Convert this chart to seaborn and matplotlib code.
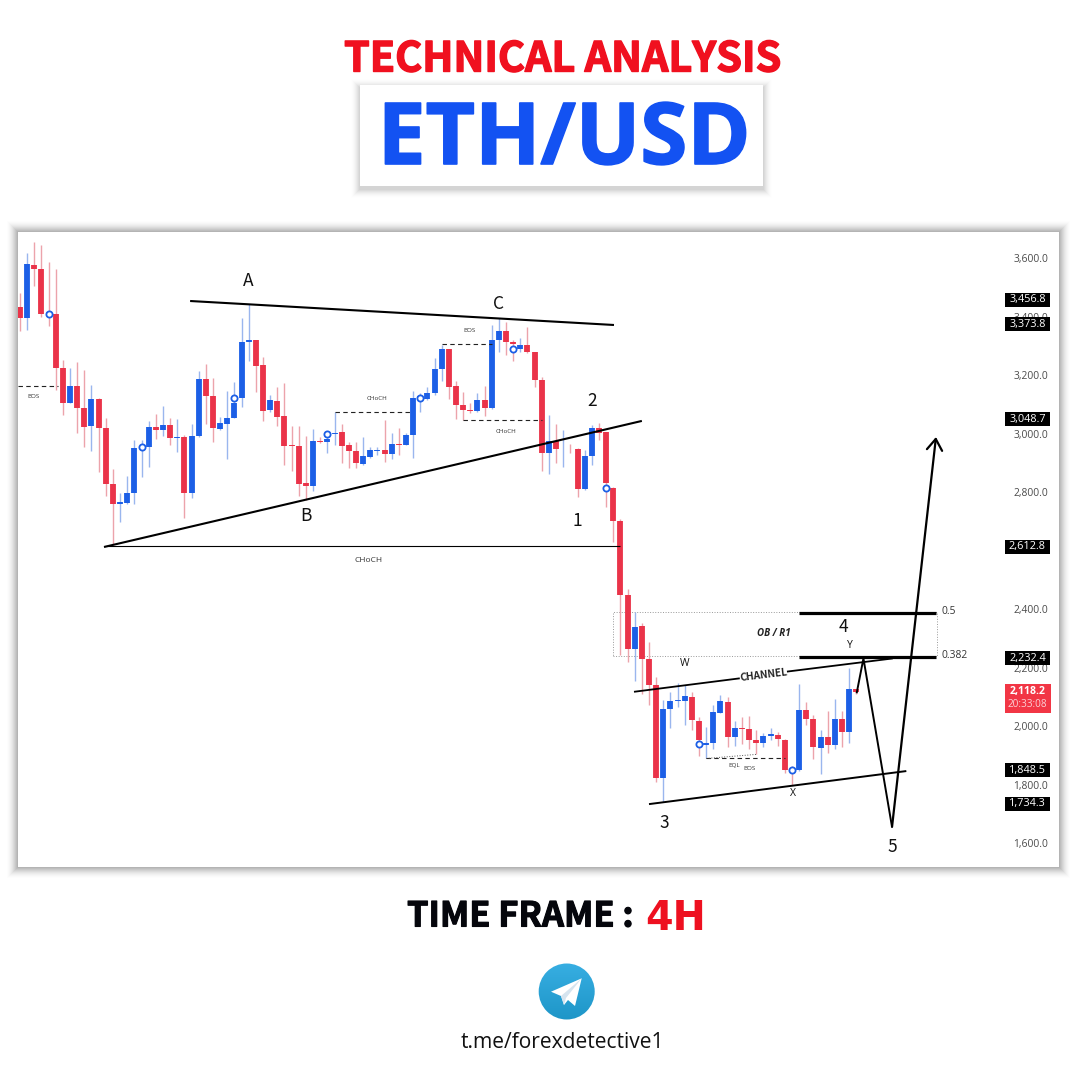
import numpy as np
import pandas as pd
import matplotlib
matplotlib.use('Agg')
import matplotlib.pyplot as plt
import matplotlib.patheffects as pe
from matplotlib.patches import Rectangle, Circle, Polygon
import seaborn as sns

# candle values
opens = [3431, 3396, 3576, 3562, 3414, 3410, 3224, 3106, 3161, 3088, 3024, 3118, 3018, 2826, 2760, 2762, 2795, 2949, 2954, 3022,
         3011, 3028, 2986, 2987, 2795, 2991, 3186, 3129, 3016, 3032, 3054, 3120, 3314, 3320, 3233, 3081, 3111, 3059, 2961, 2957,
         2830, 2822, 2974, 2972, 2998, 3004, 2960, 2940, 2896, 2921, 2939, 2942, 2929, 2965, 2962, 2995, 3117, 3119, 3140, 3220,
         3290, 3161, 3099, 3080, 3076, 3114, 3087, 3318, 3349, 3314, 3289, 3303, 3279, 3183, 2932, 2975, 2946, 2948, 2946, 2809,
         2923, 3020, 3004, 2815, 2700, 2448, 2263, 2343, 2228, 2140, 1821, 2059, 2086, 2086, 2100, 2018, 1936, 1942, 2046, 2081,
         1964, 1994, 1989, 1952, 1943, 1967, 1969, 1953, 1854, 1848, 2054, 2023, 1926, 1961, 1936, 2024, 1980, 2125]
closes = [3396, 3578, 3562, 3410, 3405, 3225, 3106, 3161, 3087, 3022, 3118, 3020, 2826, 2760, 2766, 2795, 2949, 2958, 3022, 3011,
          3028, 2986, 2988, 2795, 2993, 3186, 3128, 3018, 3036, 3054, 3103, 3314, 3320, 3232, 3078, 3113, 3057, 2958, 2957, 2828,
          2822, 2974, 2970, 2981, 3003, 2958, 2939, 2899, 2922, 2942, 2942, 2929, 2965, 2961, 2995, 3120, 3128, 3140, 3222, 3290,
          3160, 3099, 3079, 3078, 3114, 3087, 3320, 3349, 3314, 3306, 3304, 3279, 3183, 2932, 2975, 2946, 2948, 2946, 2809, 2922,
          3018, 3003, 2832, 2700, 2447, 2263, 2340, 2228, 2140, 1821, 2059, 2084, 2089, 2101, 2021, 1952, 1942, 2047, 2084, 1964,
          1994, 1989, 1952, 1943, 1967, 1972, 1954, 1851, 1846, 2054, 2023, 1928, 1961, 1936, 2024, 1980, 2125, 2116]
highs = [3479, 3618, 3654, 3644, 3587, 3561, 3251, 3225, 3246, 3217, 3166, 3120, 3054, 2879, 2795, 2855, 2979, 2978, 3043, 3067,
         3094, 3052, 3048, 2995, 3031, 3214, 3236, 3189, 3057, 3146, 3176, 3394, 3442, 3320, 3263, 3132, 3158, 3171, 3026, 3026,
         2991, 3015, 2989, 3006, 3072, 3031, 2972, 2972, 2988, 2955, 2953, 3046, 3001, 3018, 3001, 3145, 3137, 3160, 3259, 3303,
         3290, 3179, 3141, 3103, 3137, 3162, 3371, 3396, 3382, 3320, 3325, 3365, 3280, 3194, 3063, 3031, 3012, 2963, 2952, 2944,
         3029, 3037, 3004, 2818, 2707, 2468, 2391, 2353, 2288, 2166, 2089, 2117, 2146, 2140, 2117, 2032, 1998, 2072, 2106, 2100,
         2018, 2030, 2035, 1986, 1977, 1992, 1981, 1954, 1863, 2144, 2081, 2038, 1986, 2051, 2091, 2052, 2197, 2125]
lows = [3350, 3354, 3505, 3399, 3369, 3149, 3063, 3103, 3003, 2954, 2941, 2870, 2787, 2619, 2698, 2760, 2760, 2852, 2884, 2981,
        2993, 2961, 2938, 2712, 2781, 2989, 3031, 2972, 3012, 2913, 3052, 3089, 3248, 3143, 3043, 3075, 3027, 2892, 2872, 2786,
        2773, 2803, 2966, 2933, 2961, 2898, 2881, 2883, 2892, 2915, 2926, 2904, 2912, 2926, 2961, 2917, 3075, 3114, 3130, 3179,
        3119, 3048, 3046, 3071, 3075, 3060, 3085, 3277, 3268, 3248, 3277, 3276, 3160, 2872, 2860, 2898, 2887, 2932, 2782, 2807,
        2892, 2978, 2750, 2630, 2243, 2220, 2155, 2108, 2072, 1810, 1741, 1993, 2064, 2003, 1986, 1899, 1889, 1920, 2043, 1927,
        1933, 1938, 1920, 1904, 1929, 1952, 1932, 1838, 1798, 1846, 2003, 1887, 1835, 1907, 1920, 1927, 1943, 2108]

# blue ring markers
ring_candles = [4, 17, 30, 43, 56, 69, 82, 95, 108]
ring_prices = [3410, 2954, 3120, 2997, 3120, 3290, 2815, 1937, 1850]

price_ticks = [3600, 3400, 3200, 3000, 2800, 2600, 2400, 2200, 2000, 1800, 1600]
price_tick_labels = ['3,600.0', '3,400.0', '3,200.0', '3,000.0', '2,800.0', '', '2,400.0', '2,200.0', '2,000.0', '1,800.0', '1,600.0']
level_tags = [3456.8, 3373.8, 3048.7, 2612.8, 2232.4, 1848.5, 1734.3]

RED = '#ea3349'
BLUE = '#1c5fe6'
WICK_RED = '#eca3ab'
WICK_BLUE = '#9ab6ee'
HEAD_FONT = ['Noto Sans CJK SC', 'DejaVu Sans']

sns.set_style('white')
plt.rcParams['font.family'] = ['Open Sans', 'DejaVu Sans']

fig = plt.figure(figsize=(10.8, 10.8), dpi=100, facecolor='white')

# page layer in image pixels
page = fig.add_axes([0, 0, 1, 1], zorder=0)
page.set_xlim(0, 1080)
page.set_ylim(1080, 0)
page.axis('off')


def shadow_box(x0, y0, x1, y1, spread, drop, strength):
    # layers get darker towards the box so the edge fades out
    for i in range(spread, 0, -1):
        page.add_patch(Rectangle((x0 - i, y0 - i + drop), x1 - x0 + 2 * i, y1 - y0 + 2 * i,
                                 fc='black', ec='none', lw=0, alpha=strength * (spread - i + 1.5)))
    page.add_patch(Rectangle((x0, y0), x1 - x0, y1 - y0, fc='white', ec='none'))


shadow_box(18, 232, 1059, 867, 11, 0, 0.0045)
shadow_box(360, 85, 763, 186, 9, 3, 0.0035)

# header and footer
page.text(344, 71.5, 'TECHNICAL ANALYSIS', color='#f0101f', family=HEAD_FONT, weight='bold', fontsize=29.7,
          ha='left', va='baseline', path_effects=[pe.withStroke(linewidth=1.0, foreground='#f0101f')])
page.text(564, 164, 'ETH/USD', color='#1352f2', family='Open Sans', weight='bold', fontsize=61.5,
          ha='center', va='baseline', path_effects=[pe.withStroke(linewidth=1.2, foreground='#1352f2')])
page.text(407, 926.5, 'TIME FRAME :', color='#05060c', family=HEAD_FONT, weight='bold', fontsize=24.8,
          ha='left', va='baseline', path_effects=[pe.withStroke(linewidth=0.8, foreground='#05060c')])
page.text(645, 930, '4H', color='#ee1020', family='DejaVu Sans', weight='bold', fontsize=28.5,
          ha='left', va='baseline')
page.text(562.5, 1042, 't.me/forexdetective1', color='#111111', family='Open Sans', fontsize=15.1,
          ha='center', va='center')

# telegram badge
badge = Circle((566.7, 991.5), 28, transform=page.transData)
grad = page.imshow(np.linspace(0, 1, 64).reshape(-1, 1), extent=(538, 595, 1020, 963), aspect='auto',
                   cmap=matplotlib.colors.LinearSegmentedColormap.from_list('tg', ['#37aee2', '#1e96c8']),
                   zorder=2)
grad.set_clip_path(badge)
page.set_xlim(0, 1080)
page.set_ylim(1080, 0)
page.add_patch(Polygon([(581.7, 978.3), (551, 991.7), (561, 996), (564, 1005), (568, 1000), (575, 1006)],
                       fc='white', ec='none', zorder=3))
page.add_patch(Polygon([(581.7, 978.3), (561, 996), (564, 1005), (566, 998)], fc='#d5e4ef', ec='none', zorder=4))

# chart layer, no background so the panel shows through
ax = fig.add_axes([18 / 1080, 1 - 867 / 1080, 1041 / 1080, 635 / 1080], zorder=1)
ax.patch.set_alpha(0)
sns.despine(ax=ax, left=True, bottom=True, right=True, top=True)

df = pd.DataFrame({'candle': np.arange(len(opens)), 'open': opens, 'close': closes, 'high': highs, 'low': lows})
df['direction'] = np.where(df['close'] > df['open'], 'up', 'down')
wicks = df.melt(id_vars=['candle', 'direction'], value_vars=['high', 'low'], value_name='price')
bodies = df.melt(id_vars=['candle', 'direction'], value_vars=['open', 'close'], value_name='price')

sns.lineplot(data=wicks, x='candle', y='price', hue='direction', units='candle', estimator=None,
             palette={'up': WICK_BLUE, 'down': WICK_RED}, linewidth=1.0, legend=False, ax=ax,
             solid_capstyle='butt', zorder=2)
sns.lineplot(data=bodies, x='candle', y='price', hue='direction', units='candle', estimator=None,
             palette={'up': BLUE, 'down': RED}, linewidth=4.2, legend=False, ax=ax,
             solid_capstyle='butt', zorder=3)
sns.scatterplot(x=ring_candles, y=ring_prices, s=20, color='white', edgecolor=BLUE, linewidth=1.3, ax=ax,
                zorder=4, legend=False)

ax.set_xlim(-0.28, 145.36)
ax.set_ylim(1518, 3688.9)
ax.set_xlabel('')
ax.set_ylabel('')
ax.set_xticks([])
ax.yaxis.tick_right()
ax.set_yticks(price_ticks)
ax.set_yticklabels(price_tick_labels)
ax.tick_params(axis='y', length=0, pad=-33, labelsize=7.4, labelcolor='#4a4a4a')

# price tags on the scale
tag_trans = ax.get_yaxis_transform()
for level in level_tags:
    ax.add_patch(Rectangle((0.948, level - 24), 0.0432, 48, transform=tag_trans, fc='black', ec='none', zorder=6))
    ax.text(0.9697, level, f'{level:,.1f}', transform=tag_trans, color='white', fontsize=7.8,
            ha='center', va='center', zorder=7)
ax.add_patch(Rectangle((0.948, 2044), 0.0442, 100, transform=tag_trans, fc='#f23645', ec='none', zorder=6))
ax.text(0.9697, 2118, '2,118.2', transform=tag_trans, color='white', fontsize=7.6, weight='bold',
        ha='center', va='center', zorder=7)
ax.text(0.9697, 2072, '20:33:08', transform=tag_trans, color='#fbd0d5', fontsize=7.2,
        ha='center', va='center', zorder=7)

# wave and channel lines (candle index, price)
solid_lines = [
    ([23.8, 83.1], [3453, 3371], 1.5),
    ([11.75, 87.0], [2612, 3043], 1.5),
    ([11.75, 83.9], [2617, 2617], 0.8),
    ([85.9, 100.7], [2117, 2163], 1.3),
    ([107.3, 122.1], [2186, 2231], 1.3),
    ([88.0, 124.0], [1733, 1846], 1.4),
    ([109.0, 128.2], [2388, 2388], 2.3),
    ([109.0, 128.2], [2236, 2236], 2.3),
    ([117.05, 118.0, 122.0], [2112, 2231, 1655], 1.4),
]
for xs, ys, lw in solid_lines:
    ax.plot(xs, ys, color='black', lw=lw, solid_capstyle='butt', zorder=5)
ax.annotate('', xy=(128.15, 2988), xytext=(122.0, 1655),
            arrowprops=dict(arrowstyle='->,head_length=0.8,head_width=0.55', color='black', lw=1.6,
                            shrinkA=0, shrinkB=0), zorder=5)

dashed_lines = [
    ([-0.3, 5.3], [3161, 3161]),
    ([44, 54.6], [3072, 3072]),
    ([59, 66], [3305, 3305]),
    ([62, 73], [3045, 3045]),
    ([96, 107], [1889, 1889]),
]
for xs, ys in dashed_lines:
    ax.plot(xs, ys, color='#222222', lw=0.8, dashes=(4, 3), zorder=4)
ax.plot([96, 103], [1889, 1903], color='#555555', lw=0.7, ls=':', zorder=4)
ax.add_patch(Rectangle((82.96, 2239), 45.3, 150.7, fc='none', ec='#999999', lw=0.7, ls=':', zorder=1))

# labels, placed in image pixels
wave_labels = [('A', 248, 281), ('B', 306, 516), ('C', 498, 304), ('1', 577, 521), ('2', 592, 401), ('3', 664, 823),
               ('4', 843, 627), ('5', 892, 847)]
for s, x, y in wave_labels:
    ax.text(x, y, s, transform=page.transData, fontsize=12.5, family=HEAD_FONT, color='#111111',
            ha='center', va='center', zorder=8)
for s, x, y in [('W', 685, 663), ('X', 793, 794), ('Y', 850, 646)]:
    ax.text(x, y, s, transform=page.transData, fontsize=7.5, color='#111111', ha='center', va='center', zorder=8)
tiny_labels = [('BOS', 33, 397), ('CHoCH', 376.7, 399), ('BOS', 470, 331), ('CHoCH', 506, 431.5), ('EQL', 734, 765),
               ('BOS', 749, 769)]
for s, x, y in tiny_labels:
    ax.text(x, y, s, transform=page.transData, fontsize=4.5, color='#333333', ha='center', va='center', zorder=8)
ax.text(369, 560, 'CHoCH', transform=page.transData, fontsize=6, color='#333333', ha='center', va='center', zorder=8)
ax.text(774, 633, 'OB / R1', transform=page.transData, fontsize=7, weight='bold', style='italic', color='#222222',
        ha='center', va='center', zorder=8)
ax.text(763.5, 675, 'CHANNEL', transform=page.transData, fontsize=7.3, family=HEAD_FONT, weight='bold', rotation=7,
        color='#222222', ha='center', va='center', zorder=8)
ax.text(942, 612, '0.5', transform=page.transData, fontsize=7.4, color='#333333', ha='left', va='center', zorder=8)
ax.text(942, 656, '0.382', transform=page.transData, fontsize=7.4, color='#333333', ha='left', va='center', zorder=8)

fig.savefig('out.png', dpi=100)
